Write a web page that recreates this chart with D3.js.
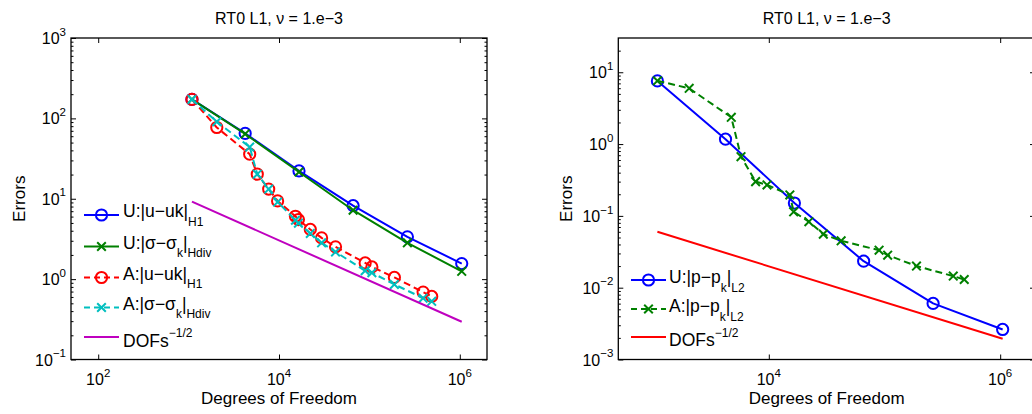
<!DOCTYPE html>
<html>
<head>
<meta charset="utf-8">
<script src="https://cdn.jsdelivr.net/npm/d3@7"></script>
<style>
  body { margin: 0; background: #fff; }
  svg { display: block; }
  text { font-family: "Liberation Sans", Arial, Helvetica, sans-serif; fill: #000; }
</style>
</head>
<body>
<svg id="fig" width="1032" height="414"></svg>
<script>
// ---------------- data ----------------
// degrees of freedom for uniform (U) and adaptive (A) refinement
const dofsU = [1089, 4225, 16641, 66049, 263169, 1050625];
const dofsA = [1089, 2050, 4740, 5750, 7690, 9650, 15200, 16400, 22200, 29600, 42200, 89800, 106500, 189000, 393000, 489000];

// left panel: velocity / stress errors
const errU_uH1 = [172, 65, 22.2, 8.2, 3.36, 1.56];
const errU_sigHdiv = [172, 64, 21.5, 7.2, 2.83, 1.25];
const errA_uH1 = [172, 77, 35.9, 20.2, 13.2, 9.4, 6.05, 5.5, 4.15, 3.26, 2.52, 1.59, 1.42, 1.05, 0.69, 0.61];
const errA_sigHdiv = [172, 90.8, 44, 20.2, 13.2, 9.1, 5.4, 4.97, 3.7, 2.83, 2.18, 1.27, 1.2, 0.86, 0.58, 0.53];

// right panel: pressure errors
const errU_pL2 = [7.57, 1.17, 0.151, 0.0234, 0.00604, 0.00262];
const errA_pL2 = [7.6, 5.98, 2.36, 0.667, 0.30, 0.27, 0.196, 0.114, 0.083, 0.0557, 0.045, 0.0333, 0.0284, 0.02, 0.0145, 0.013];

// reference slope DOFs^-1/2 (end points)
const refDofs = [1089, 1050625];
const refLeft = [9.2, 0.295];
const refRight = [0.06, 0.00195];

// tick values
const xTicksLeft = [1e2, 1e4, 1e6];
const xTicksRight = [1e4, 1e6];
const yTicksLeft = [1e-1, 1e0, 1e1, 1e2, 1e3];
const yTicksRight = [1e-3, 1e-2, 1e-1, 1e0, 1e1];

const titleText = "RT0 L1, \u03bd = 1.e\u22123";
const xLabelText = "Degrees of Freedom";
const yLabelText = "Errors";

// ---------------- helpers ----------------
const svg = d3.select("#fig");
const C = { blue: "#0000ff", green: "#008000", red: "#ff0000", cyan: "#00bfbf", magenta: "#bf00bf" };
const DASH = "7,4";

// text with sub/superscript parts: [text, kind] kind in "n" | "sub" | "sup"
function rich(textSel, parts, fs, subFs, subDy, supDy) {
  let shift = 0;
  parts.forEach(([t, kind]) => {
    const target = kind === "sub" ? subDy : kind === "sup" ? supDy : 0;
    textSel.append("tspan")
      .attr("dy", target - shift)
      .attr("font-size", kind === "n" ? fs : subFs)
      .text(t);
    shift = target;
  });
}

function expParts(v) {
  const e = Math.round(Math.log10(v));
  return [["10", "n"], [String(e).replace("-", "\u2212"), "sup"]];
}

function minorTicks(domain) {
  const out = [];
  const lo = Math.floor(Math.log10(domain[0])), hi = Math.ceil(Math.log10(domain[1]));
  for (let d = lo; d <= hi; d++) {
    for (let m = 2; m <= 9; m++) {
      const v = m * Math.pow(10, d);
      if (v > domain[0] && v < domain[1]) out.push(v);
    }
  }
  return out;
}

function drawSeries(g, x, y, xs, ys, color, dash, marker) {
  const pts = xs.map((d, i) => [d, ys[i]]);
  g.append("path").datum(pts)
    .attr("fill", "none").attr("stroke", color).attr("stroke-width", 2)
    .attr("stroke-dasharray", dash || null)
    .attr("stroke-linejoin", "round")
    .attr("d", d3.line().x(d => x(d[0])).y(d => y(d[1])));
  if (marker) {
    pts.forEach(p => drawMarker(g, x(p[0]), y(p[1]), color, marker));
  }
}

function drawMarker(g, cx, cy, color, marker) {
  if (marker === "o") {
    g.append("circle").attr("cx", cx).attr("cy", cy).attr("r", 5.6)
      .attr("fill", "none").attr("stroke", color).attr("stroke-width", 2);
  } else if (marker === "x") {
    const s = 4.3;
    g.append("path")
      .attr("d", `M${cx - s},${cy - s}L${cx + s},${cy + s}M${cx - s},${cy + s}L${cx + s},${cy - s}`)
      .attr("stroke", color).attr("stroke-width", 2).attr("fill", "none");
  }
}

function panel(opt) {
  const { left, top, width, height, xDomain, yDomain, xTicks, yTicks } = opt;
  const x = d3.scaleLog().domain(xDomain).range([left, left + width]);
  const y = d3.scaleLog().domain(yDomain).range([top + height, top]);
  const g = svg.append("g");

  // title and axis labels
  g.append("text").attr("x", left + width / 2).attr("y", 24)
    .attr("text-anchor", "middle").attr("font-size", 16).text(titleText);
  g.append("text").attr("x", left + width / 2).attr("y", 404)
    .attr("text-anchor", "middle").attr("font-size", 17).text(xLabelText);
  g.append("text").attr("transform", `translate(${opt.yLabelX},${top + height / 2}) rotate(-90)`)
    .attr("text-anchor", "middle").attr("font-size", 17).text(yLabelText);

  // ticks (inward) on all four sides
  const tickStyle = s => {
    s.select(".domain").remove();
    s.selectAll(".tick line").attr("stroke", "#000").attr("stroke-width", 1);
    s.selectAll(".tick text").remove();
  };
  const gb = g.append("g").attr("transform", `translate(0,${top + height})`)
    .call(d3.axisBottom(x).tickValues(xTicks).tickSizeInner(-5).tickSizeOuter(0).tickFormat(""));
  tickStyle(gb);
  const gt = g.append("g").attr("transform", `translate(0,${top})`)
    .call(d3.axisTop(x).tickValues(xTicks).tickSizeInner(-5).tickSizeOuter(0).tickFormat(""));
  tickStyle(gt);
  const gl = g.append("g").attr("transform", `translate(${left},0)`)
    .call(d3.axisLeft(y).tickValues(yTicks).tickSizeInner(-5).tickSizeOuter(0).tickFormat(""));
  tickStyle(gl);
  const gr = g.append("g").attr("transform", `translate(${left + width},0)`)
    .call(d3.axisRight(y).tickValues(yTicks).tickSizeInner(-5).tickSizeOuter(0).tickFormat(""));
  tickStyle(gr);
  const minors = minorTicks(yDomain);
  const gml = g.append("g").attr("transform", `translate(${left},0)`)
    .call(d3.axisLeft(y).tickValues(minors).tickSizeInner(-2.5).tickSizeOuter(0).tickFormat(""));
  tickStyle(gml);
  const gmr = g.append("g").attr("transform", `translate(${left + width},0)`)
    .call(d3.axisRight(y).tickValues(minors).tickSizeInner(-2.5).tickSizeOuter(0).tickFormat(""));
  tickStyle(gmr);

  // tick labels with exponents
  xTicks.forEach(v => {
    const t = g.append("text").attr("x", x(v)).attr("y", 385)
      .attr("text-anchor", "middle").attr("font-size", 16);
    rich(t, expParts(v), 16, 11.5, 0, -8.3);
  });
  yTicks.forEach(v => {
    const t = g.append("text").attr("x", left - 5).attr("y", y(v) + 6)
      .attr("text-anchor", "end").attr("font-size", 16);
    rich(t, expParts(v), 16, 11.5, 0, -8.3);
  });

  // axes box
  g.append("rect").attr("x", left).attr("y", top).attr("width", width).attr("height", height)
    .attr("fill", "none").attr("stroke", "#000").attr("stroke-width", 1.3);

  return { g, x, y };
}

function legend(g, lx, tx, entries) {
  entries.forEach(e => {
    g.append("line").attr("x1", lx).attr("x2", lx + 35).attr("y1", e.y).attr("y2", e.y)
      .attr("stroke", e.color).attr("stroke-width", 2)
      .attr("stroke-dasharray", e.dash || null);
    if (e.marker) drawMarker(g, lx + 17.5, e.y, e.color, e.marker);
    const t = g.append("text").attr("x", tx).attr("y", e.y + e.base).attr("font-size", 17.5);
    rich(t, e.parts, 17.5, 12, 8.5, -9.5);
  });
}

// ---------------- left panel ----------------
const L = panel({
  left: 71, top: 38, width: 416, height: 321.5,
  xDomain: [50, 2e6], yDomain: [0.1, 1000],
  xTicks: xTicksLeft, yTicks: yTicksLeft, yLabelX: 25
});
drawSeries(L.g, L.x, L.y, dofsU, errU_uH1, C.blue, null, "o");
drawSeries(L.g, L.x, L.y, dofsU, errU_sigHdiv, C.green, null, "x");
drawSeries(L.g, L.x, L.y, dofsA, errA_uH1, C.red, DASH, "o");
drawSeries(L.g, L.x, L.y, dofsA, errA_sigHdiv, C.cyan, DASH, "x");
drawSeries(L.g, L.x, L.y, refDofs, refLeft, C.magenta, null, null);

legend(L.g, 84, 123, [
  { y: 215, base: 2, color: C.blue, marker: "o",
    parts: [["U:|u\u2212uk|", "n"], ["H1", "sub"]] },
  { y: 246.5, base: 2, color: C.green, marker: "x",
    parts: [["U:|\u03c3\u2212\u03c3", "n"], ["k", "sub"], ["|", "n"], ["Hdiv", "sub"]] },
  { y: 277.5, base: 2, color: C.red, marker: "o", dash: "6,4",
    parts: [["A:|u\u2212uk|", "n"], ["H1", "sub"]] },
  { y: 307.5, base: 2, color: C.cyan, marker: "x", dash: "6,4",
    parts: [["A:|\u03c3\u2212\u03c3", "n"], ["k", "sub"], ["|", "n"], ["Hdiv", "sub"]] },
  { y: 337, base: 9.5, color: C.magenta,
    parts: [["DOFs", "n"], ["\u22121/2", "sup"]] }
]);

// ---------------- right panel ----------------
const R = panel({
  left: 618.3, top: 38, width: 416.7, height: 321.5,
  xDomain: [500, 2e6], yDomain: [1e-3, 30],
  xTicks: xTicksRight, yTicks: yTicksRight, yLabelX: 572
});
drawSeries(R.g, R.x, R.y, dofsU, errU_pL2, C.blue, null, "o");
drawSeries(R.g, R.x, R.y, dofsA, errA_pL2, C.green, DASH, "x");
drawSeries(R.g, R.x, R.y, refDofs, refRight, C.red, null, null);

legend(R.g, 631, 669, [
  { y: 280, base: 3, color: C.blue, marker: "o",
    parts: [["U:|p\u2212p", "n"], ["k", "sub"], ["|", "n"], ["L2", "sub"]] },
  { y: 309, base: 3, color: C.green, marker: "x", dash: "6,4",
    parts: [["A:|p\u2212p", "n"], ["k", "sub"], ["|", "n"], ["L2", "sub"]] },
  { y: 337, base: 9, color: C.red,
    parts: [["DOFs", "n"], ["\u22121/2", "sup"]] }
]);
</script>
</body>
</html>
